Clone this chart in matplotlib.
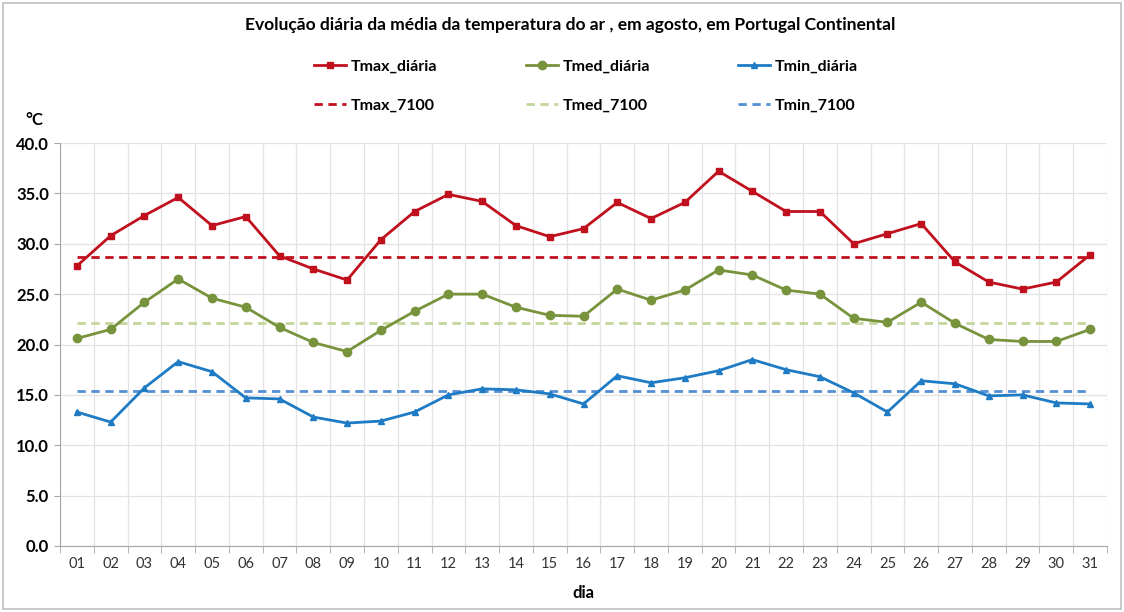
import numpy as np
import matplotlib.pyplot as plt
from matplotlib.patches import Rectangle

days = [f"{d:02d}" for d in range(1, 32)]

tmax_diaria = [27.8, 30.8, 32.8, 34.6, 31.8, 32.7, 28.8, 27.5, 26.4, 30.4, 33.2, 34.9, 34.2, 31.8, 30.7, 31.5,
               34.1, 32.5, 34.1, 37.2, 35.2, 33.2, 33.2, 30.0, 31.0, 32.0, 28.2, 26.2, 25.5, 26.2, 28.9]
tmed_diaria = [20.6, 21.5, 24.2, 26.5, 24.6, 23.7, 21.7, 20.2, 19.3, 21.4, 23.3, 25.0, 25.0, 23.7, 22.9, 22.8,
               25.5, 24.4, 25.4, 27.4, 26.9, 25.4, 25.0, 22.6, 22.2, 24.2, 22.1, 20.5, 20.3, 20.3, 21.5]
tmin_diaria = [13.3, 12.3, 15.7, 18.3, 17.3, 14.7, 14.6, 12.8, 12.2, 12.4, 13.3, 15.0, 15.6, 15.5, 15.1, 14.1,
               16.9, 16.2, 16.7, 17.4, 18.5, 17.5, 16.8, 15.2, 13.3, 16.4, 16.1, 14.9, 15.0, 14.2, 14.1]
tmax_7100 = 28.7
tmed_7100 = 22.1
tmin_7100 = 15.4

plt.rcParams["font.family"] = ["Lato", "DejaVu Sans"]

fig = plt.figure(figsize=(11.24, 6.12), dpi=100)
fig.patches.append(Rectangle((0.003, 0.005), 0.994, 0.99, transform=fig.transFigure,
                             fill=False, edgecolor="#BFBFBF", lw=1.2))
ax = fig.add_axes([60/1124, 1-546/612, (1107-60)/1124, (546-143)/612])

x = np.arange(1, 32)
c_max, c_med, c_min = "#C0101E", "#77933C", "#1E7BC4"

ax.plot(x, tmax_diaria, color=c_max, lw=2, marker="s", ms=4.5, label="Tmax_diária", zorder=5)
ax.plot(x, tmed_diaria, color=c_med, lw=2, marker="o", ms=6, label="Tmed_diária", zorder=5)
ax.plot(x, tmin_diaria, color=c_min, lw=2, marker="^", ms=4.5, label="Tmin_diária", zorder=5)
ax.plot([x[0], x[-1]], [tmax_7100]*2, color=c_max, lw=2, ls=(0, (3, 2)), label="Tmax_7100", zorder=4)
ax.plot([x[0], x[-1]], [tmed_7100]*2, color="#C3D69B", lw=2, ls=(0, (3, 2)), label="Tmed_7100", zorder=4)
ax.plot([x[0], x[-1]], [tmin_7100]*2, color="#558ED5", lw=2, ls=(0, (3, 2)), label="Tmin_7100", zorder=4)

ax.set_xlim(0.5, 31.5)
ax.set_ylim(0, 40)
ax.set_yticks(np.arange(0, 41, 5))
ax.set_yticklabels([f"{v:.1f}" for v in np.arange(0, 41, 5)], fontsize=12, fontweight="bold")
ax.set_xticks(x)
ax.set_xticklabels(days, fontsize=10.5, color="#333333")
ax.set_xticks(np.arange(0.5, 32, 1), minor=True)
ax.tick_params(axis="x", which="major", length=0, pad=8)
ax.tick_params(axis="x", which="minor", length=5, color="#A6A6A6")
ax.tick_params(axis="y", length=4, color="#A6A6A6", pad=4)

ax.grid(True, axis="y", which="major", color="#E3E3E3", lw=0.9)
ax.grid(True, axis="x", which="minor", color="#E3E3E3", lw=0.9)
for s in ["top", "right"]:
    ax.spines[s].set_visible(False)
for s in ["left", "bottom"]:
    ax.spines[s].set_color("#A6A6A6")
ax.set_axisbelow(True)

ax.set_xlabel("dia", fontsize=12, fontweight="bold", labelpad=10)
fig.text(25/1124, 1-120/612, "°C", fontsize=12, fontweight="bold", ha="left", va="center")
fig.text(570/1124, 1-25/612, "Evolução diária da média da temperatura do ar , em agosto, em Portugal Continental",
         fontsize=12.5, fontweight="bold", ha="center", va="center")

handles, labels = ax.get_legend_handles_labels()
order = [0, 3, 1, 4, 2, 5]
fig.legend([handles[i] for i in order], [labels[i] for i in order], ncol=3,
           loc="center", bbox_to_anchor=(586/1124, 1-86/612), frameon=False,
           handlelength=2.0, handletextpad=0.3, columnspacing=5.5,
           labelspacing=1.6, prop={"weight": "bold", "size": 11.5})

fig.savefig("out.png", dpi=100)
